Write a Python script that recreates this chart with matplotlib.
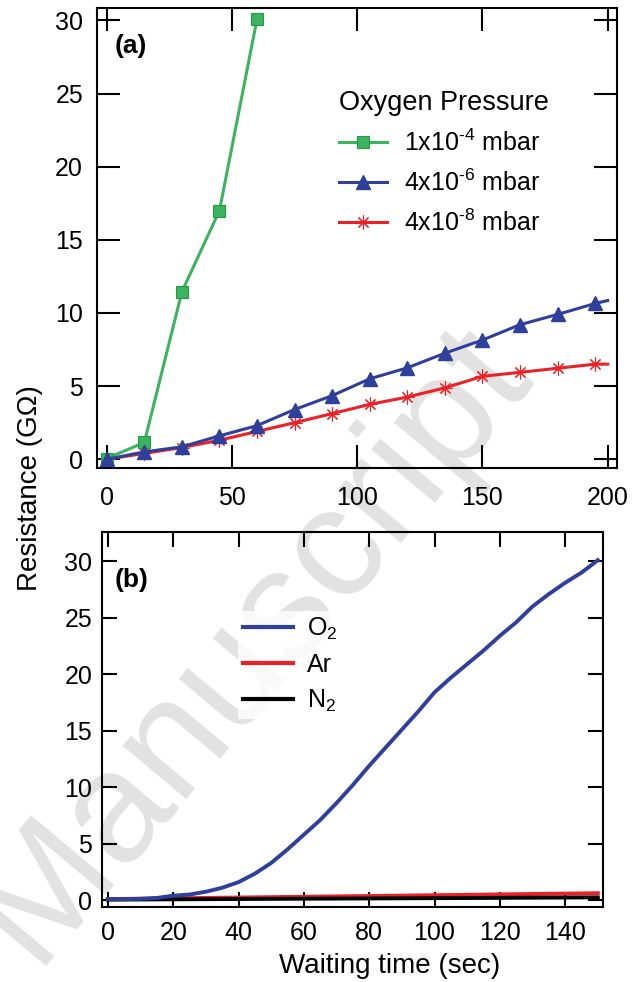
import matplotlib
matplotlib.use("Agg")
import matplotlib.pyplot as plt

plt.rcParams["font.family"] = ["Liberation Sans", "DejaVu Sans"]
plt.rcParams["mathtext.fontset"] = "custom"
plt.rcParams["mathtext.rm"] = "Liberation Sans"
plt.rcParams["mathtext.it"] = "Liberation Sans:italic"

GREEN = "#3cb35f"
GREEN_EDGE = "#249a45"
BLUE = "#2e3f9c"
RED = "#ec2127"
WATERMARK = "#e2e2e2"

# panel (a): resistance vs time for three oxygen pressures
t_hi = [0, 15, 30, 45, 60]
r_hi = [0.05, 1.15, 11.45, 17.0, 30.1]
t_mid = [0, 15, 30, 45, 60, 75, 90, 105, 120, 135, 150, 165, 180, 195, 200]
r_mid = [0.0, 0.5, 0.85, 1.6, 2.3, 3.4, 4.35, 5.5, 6.25, 7.25, 8.15, 9.2, 9.9, 10.65, 10.85]
t_low = [0, 15, 30, 45, 60, 75, 90, 105, 120, 135, 150, 165, 180, 195, 200]
r_low = [0.0, 0.4, 0.8, 1.3, 1.9, 2.5, 3.12, 3.75, 4.25, 4.88, 5.67, 5.94, 6.22, 6.5, 6.5]
labels_a = ["1x10$^{\u20104}$ mbar", "4x10$^{\u20106}$ mbar", "4x10$^{\u20108}$ mbar"]

# panel (b): resistance vs time in different gases
t_gas = [0, 5, 10, 15, 20, 25, 30, 35, 40, 45, 50, 55, 60, 65, 70, 75, 80, 85, 90,
         95, 100, 105, 110, 115, 120, 125, 130, 135, 140, 145, 150]
r_o2 = [0.1, 0.1, 0.12, 0.2, 0.4, 0.5, 0.75, 1.1, 1.6, 2.35, 3.3, 4.5, 5.8, 7.1, 8.6,
        10.2, 11.9, 13.5, 15.1, 16.7, 18.4, 19.7, 20.9, 22.1, 23.4, 24.6, 26.0, 27.1,
        28.1, 29.0, 30.1]
t_line = [0, 50, 100, 150]
r_ar = [0.1, 0.27, 0.44, 0.62]
r_n2 = [0.05, 0.12, 0.18, 0.25]
labels_b = ["O$_2$", "Ar", "N$_2$"]

fig = plt.figure(figsize=(6.44, 9.82), dpi=100)
fig.text(0.39, 0.345, "Manuscript", fontsize=114, color=WATERMARK, rotation=50,
         ha="center", va="center", zorder=-1)

ax_a = fig.add_axes([0.1506, 0.5234, 0.8075, 0.4685])
ax_b = fig.add_axes([0.1584, 0.0764, 0.778, 0.3819])
for ax in (ax_a, ax_b):
    ax.set_facecolor("none")
    for side in ax.spines.values():
        side.set_linewidth(1.5)

ax_a.plot(t_hi, r_hi, color=GREEN, lw=2.2, marker="s", markersize=8.5,
          markerfacecolor=GREEN, markeredgecolor=GREEN_EDGE, markeredgewidth=0.8,
          label=labels_a[0], clip_on=False, zorder=3)
ax_a.plot(t_mid, r_mid, color=BLUE, lw=2.2, marker="^", markersize=9.5,
          markevery=list(range(len(t_mid) - 1)), label=labels_a[1],
          clip_on=False, zorder=3)
ax_a.plot(t_low, r_low, color=RED, lw=2.2, marker=(8, 2, 0), markersize=10,
          markeredgewidth=0.8, markevery=list(range(len(t_low) - 1)),
          label=labels_a[2], clip_on=False, zorder=2)
ax_a.set_xlim(-3.9, 203.7)
ax_a.set_ylim(-0.6, 30.85)
ax_a.set_xticks([0, 50, 100, 150, 200])
ax_a.set_yticks([0, 5, 10, 15, 20, 25, 30])
ax_a.tick_params(direction="in", length=16.5, width=1.5, labelsize=18,
                 top=True, right=True)
ax_a.tick_params(axis="x", pad=13)
ax_a.tick_params(axis="y", pad=10)
leg_a = ax_a.legend(title="Oxygen Pressure", loc="upper left",
                    bbox_to_anchor=(0.466, 0.822), frameon=False, fontsize=18,
                    title_fontsize=19.5, handlelength=1.9, handletextpad=0.7,
                    labelspacing=0.54, borderaxespad=0, borderpad=0)
leg_a._legend_box.align = "left"
ax_a.text(0.033, 0.918, "(a)", transform=ax_a.transAxes, fontsize=19,
          fontweight="bold", ha="left", va="center")

ax_b.plot(t_gas, r_o2, color=BLUE, lw=2.8, label=labels_b[0], zorder=3)
ax_b.plot(t_line, r_ar, color=RED, lw=2.8, label=labels_b[1], zorder=2)
ax_b.plot(t_line, r_n2, color="black", lw=2.8, label=labels_b[2], zorder=2)
ax_b.set_xlim(-1.8, 151.6)
ax_b.set_ylim(-0.6, 32.6)
ax_b.set_xticks(range(0, 141, 20))
ax_b.set_yticks([0, 5, 10, 15, 20, 25, 30])
ax_b.tick_params(direction="in", length=10.5, width=1.5, labelsize=18,
                 top=True, right=True)
ax_b.tick_params(axis="x", pad=10)
ax_b.tick_params(axis="y", pad=7)
leg_b = ax_b.legend(loc="upper left", bbox_to_anchor=(0.271, 0.79),
                    frameon=True, fontsize=18, handlelength=2.0,
                    handletextpad=0.55, labelspacing=0.44, borderaxespad=0,
                    borderpad=0.2, fancybox=False)
leg_b.get_frame().set_edgecolor("none")
leg_b.get_frame().set_facecolor("white")
for line in leg_b.get_lines():
    line.set_linewidth(3.0)
ax_b.text(0.026, 0.872, "(b)", transform=ax_b.transAxes, fontsize=19,
          fontweight="bold", ha="left", va="center")

fig.text(30 / 644, 1 - 488 / 982, "Resistance (G\u03a9)", rotation=90,
         fontsize=20, ha="center", va="center")
fig.text(390 / 644, 1 - 966 / 982, "Waiting time (sec)", fontsize=20,
         ha="center", va="center")

fig.savefig("out.png", dpi=100, facecolor="white")
